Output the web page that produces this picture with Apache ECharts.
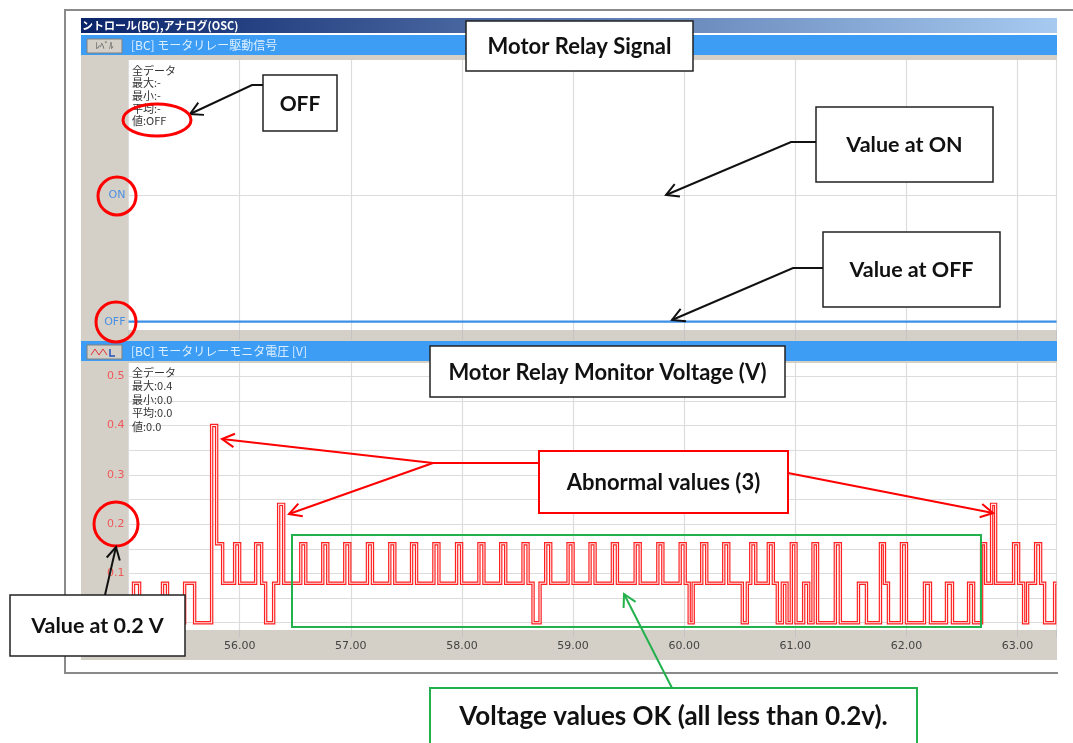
<!DOCTYPE html>
<html><head><meta charset="utf-8">
<script src="https://cdn.jsdelivr.net/npm/echarts@6/dist/echarts.min.js"></script>
<style>html,body{margin:0;padding:0;background:#fff}#c{width:1073px;height:743px}</style>
</head><body><div id="c"></div>
<script>
// ---------- data ----------
const xMin = 55, xMax = 63.35, xStep = 1;
const relayTimes = [55.0, 63.35];
const relayStates = [0, 0];
const relayStateLabels = ['OFF', 'ON'];
const voltTimes = [
  55.00, 55.045, 55.10, 55.306, 55.351, 55.505, 55.595, 55.748, 55.793, 55.847,
  55.955, 56.00, 56.144, 56.198, 56.234, 56.306, 56.351, 56.396, 56.55, 56.595,
  56.748, 56.793, 56.946, 56.991, 57.15, 57.195, 57.351, 57.396, 57.547, 57.592,
  57.748, 57.793, 57.952, 57.997, 58.153, 58.198, 58.349, 58.394, 58.55, 58.595,
  58.64, 58.703, 58.754, 58.799, 58.955, 59.00, 59.153, 59.198, 59.354, 59.399,
  59.559, 59.604, 59.763, 59.808, 59.964, 60.009, 60.045, 60.081, 60.158, 60.203,
  60.356, 60.401, 60.523, 60.568, 60.599, 60.644, 60.757, 60.802, 60.838, 60.883,
  60.925, 60.964, 61.006, 61.075, 61.12, 61.159, 61.20, 61.36, 61.405, 61.568,
  61.64, 61.766, 61.802, 61.838, 61.955, 62.00, 62.162, 62.216, 62.36, 62.414,
  62.559, 62.604, 62.676, 62.712, 62.766, 62.802, 62.964, 63.009, 63.054, 63.09,
  63.162, 63.207, 63.243, 63.333, 63.35
];
const voltValues = [
  0, 0.08, 0, 0.08, 0, 0.08, 0, 0.4, 0.16, 0.08,
  0.16, 0.08, 0.16, 0.08, 0, 0.08, 0.24, 0.08, 0.16, 0.08,
  0.16, 0.08, 0.16, 0.08, 0.16, 0.08, 0.16, 0.08, 0.16, 0.08,
  0.16, 0.08, 0.16, 0.08, 0.16, 0.08, 0.16, 0.08, 0.16, 0.08,
  0, 0.08, 0.16, 0.08, 0.16, 0.08, 0.16, 0.08, 0.16, 0.08,
  0.16, 0.08, 0.16, 0.08, 0.16, 0.08, 0, 0.08, 0.16, 0.08,
  0.16, 0.08, 0, 0.08, 0.16, 0.08, 0.16, 0.08, 0, 0.08,
  0, 0.16, 0, 0.08, 0, 0.16, 0, 0.16, 0, 0.08,
  0, 0.16, 0.08, 0, 0.16, 0, 0.08, 0, 0.08, 0,
  0.08, 0, 0.16, 0.08, 0.24, 0.08, 0.16, 0.08, 0, 0.08,
  0.16, 0.08, 0, 0.08, 0.08
];
const voltMin = 0, voltMax = 0.5, voltStep = 0.05;
const windowTitle = 'ントロール(BC),アナログ(OSC)';
const panel1Title = '[BC] モータリレー駆動信号';
const panel2Title = '[BC] モータリレーモニタ電圧 [V]';
const upperInfo = ['全データ', '最大:-', '最小:-', '平均:-', '値:OFF'];
const lowerInfo = ['全データ', '最大:0.4', '最小:0.0', '平均:0.0', '値:0.0'];

// ---------- layout helpers ----------
const GREY = '#d4d0c8', HEAD = '#3d9df5', GRID = '#dcdcdc';
const ANN = 'Lato, "Open Sans", sans-serif';
const JP = '"Noto Sans CJK JP", sans-serif';
function rect(x, y, w, h, fill, extra) { return Object.assign({ type: 'rect', shape: { x, y, width: w, height: h }, style: { fill }, z: -5 }, extra || {}); }
function txt(x, y, text, font, fill, align, z, extraStyle) {
  return { type: 'text', x, y, z: z || -4, style: Object.assign({ text, font, fill, align: align || 'left', verticalAlign: 'middle' }, extraStyle || {}) };
}
function box(x, y, w, h, stroke, lw, label, fs) {
  return [
    { type: 'rect', z: 100, shape: { x, y, width: w, height: h }, style: { fill: '#fff', stroke, lineWidth: lw } },
    { type: 'text', z: 101, x: x + w / 2, y: y + h / 2 + 1, style: { text: label, font: 'bold ' + fs + 'px ' + ANN, fill: '#111', align: 'center', verticalAlign: 'middle' } }
  ];
}
function arrow(points, color, lw) {
  const tip = points[points.length - 1], from = points[points.length - 2];
  const a = Math.atan2(from[1] - tip[1], from[0] - tip[0]), s = 0.5, L = 14;
  return [
    { type: 'polyline', z: 100, shape: { points }, style: { stroke: color, lineWidth: lw, fill: null } },
    { type: 'polyline', z: 100, shape: { points: [[tip[0] + L * Math.cos(a + s), tip[1] + L * Math.sin(a + s)], tip, [tip[0] + L * Math.cos(a - s), tip[1] + L * Math.sin(a - s)]] }, style: { stroke: color, lineWidth: lw, fill: null } }
  ];
}
function ring(cx, cy, rx, ry, z) { return { type: 'ellipse', z: z || 100, shape: { cx, cy, rx, ry }, style: { fill: null, stroke: '#ff0000', lineWidth: 3 } }; }

const graphics = [
  { type: 'polyline', z: -5, shape: { points: [[1073, 10], [65, 10], [65, 673], [1058, 673]] }, style: { stroke: '#8a8a8a', lineWidth: 2, fill: null } },
  rect(81, 18, 976, 15, new echarts.graphic.LinearGradient(0, 0, 1, 0, [{ offset: 0, color: '#0a246a' }, { offset: 1, color: '#a6caf0' }])),
  txt(82, 25.5, windowTitle, 'bold 11px ' + JP, '#ffffff'),
  rect(81, 35, 976, 20, HEAD),
  rect(87, 39, 35, 14, GREY, { style: { fill: GREY, stroke: '#808080', lineWidth: 1 } }),
  txt(104.5, 46, 'ﾚﾍﾞﾙ', '9px ' + JP, '#555', 'center'),
  txt(131, 45, panel1Title, '12px ' + JP, '#dcefff'),
  rect(81, 55, 976, 5, GREY),
  rect(81, 55, 47.5, 286, GREY),
  rect(81, 330, 976, 11, GREY),
  rect(81, 341, 976, 20, HEAD),
  rect(87, 345, 35, 14, GREY, { style: { fill: GREY, stroke: '#808080', lineWidth: 1 } }),
  { type: 'polyline', z: -4, shape: { points: [[91, 355], [95, 349], [99, 355], [103, 349], [107, 355]] }, style: { stroke: '#e03030', lineWidth: 1, fill: null } },
  { type: 'polyline', z: -4, shape: { points: [[110, 349], [110, 356], [115, 356]] }, style: { stroke: '#2050c0', lineWidth: 1.5, fill: null } },
  txt(131, 351.5, panel2Title, '12px ' + JP, '#dcefff'),
  rect(81, 361, 976, 2, GREY),
  rect(81, 361, 47.5, 299, GREY),
  rect(81, 630, 976, 30, GREY),
  { type: 'text', z: 50, x: 132, y: 64, style: { text: upperInfo.join('\n'), font: '11px ' + JP, fill: '#333', lineHeight: 12.7, verticalAlign: 'top' } },
  { type: 'text', z: 50, x: 132, y: 366, style: { text: lowerInfo.join('\n'), font: '11px ' + JP, fill: '#333', lineHeight: 13.5, verticalAlign: 'top' } },
  // annotations
  ...box(466, 21, 227, 50, '#222', 1.5, 'Motor Relay Signal', 22),
  ...box(263, 75, 74, 56, '#222', 1.5, 'OFF', 21),
  ...arrow([[263, 85], [252, 85], [190, 114]], '#111', 2),
  ring(157, 120, 34, 16),
  ring(117, 196, 19, 19),
  ring(116, 322, 20, 20),
  ...box(816, 107, 177, 75, '#222', 1.5, 'Value at ON', 21.5),
  ...arrow([[816, 142], [791, 142], [666, 195]], '#111', 2),
  ...box(823, 232, 177, 75, '#222', 1.5, 'Value at OFF', 21.5),
  ...arrow([[823, 268], [793, 268], [672, 320]], '#111', 2),
  ...box(430, 346, 355, 51, '#222', 1.5, 'Motor Relay Monitor Voltage (V)', 22),
  { type: 'rect', z: 99, shape: { x: 292, y: 535, width: 689, height: 92 }, style: { fill: null, stroke: '#22b14c', lineWidth: 2 } },
  ...box(539, 451, 249, 62, '#ff0000', 2, 'Abnormal values (3)', 22),
  { type: 'polyline', z: 100, shape: { points: [[539, 463], [433, 463]] }, style: { stroke: '#ff0000', lineWidth: 2, fill: null } },
  ...arrow([[433, 463], [222, 439]], '#ff0000', 2),
  ...arrow([[433, 463], [289, 514]], '#ff0000', 2),
  ...arrow([[788, 473], [993, 513]], '#ff0000', 2),
  ...arrow([[672, 688], [624, 594]], '#22b14c', 2),
  ...box(430, 688, 487, 56, '#22b14c', 2, 'Voltage values OK (all less than 0.2v).', 26),
  ring(116, 524, 22, 22),
  ...box(10, 595, 175, 61, '#222', 1.5, 'Value at 0.2 V', 21.5),
  ...arrow([[105, 595], [116, 547]], '#111', 2)
];

const L = 128.5, R = 1073 - 1056.5;
const isInt = v => Math.abs(v - Math.round(v)) < 1e-6;
const isTenth = v => Math.abs(v * 10 - Math.round(v * 10)) < 1e-6;
const hiddenX = i => ({ gridIndex: i, type: 'value', min: xMin, max: xMax, show: false });
const hiddenY = i => ({ gridIndex: i, type: 'value', min: 0, max: 1, show: false });
const voltData = voltTimes.map((t, i) => [t, voltValues[i]]);

const option = {
  animation: false,
  backgroundColor: '#fff',
  grid: [
    { left: L, right: R, top: 60, bottom: 743 - 330 },
    { left: L, right: R, top: 195.5, bottom: 743 - 321.7 },
    { left: L, right: R, top: 363, bottom: 743 - 630 },
    { left: L, right: R, top: 376.2, bottom: 743 - 622.7 }
  ],
  xAxis: [
    { gridIndex: 0, type: 'value', min: xMin, max: xMax, interval: xStep, axisLabel: { show: false }, axisLine: { show: false },
      axisTick: { show: true, length: 10, lineStyle: { color: '#c4c4c4' } }, splitLine: { show: true, lineStyle: { color: GRID, width: 1.2 } } },
    hiddenX(1),
    { gridIndex: 2, type: 'value', min: xMin, max: xMax, interval: xStep, axisLine: { show: false }, z: 5,
      axisTick: { show: true, length: 7, lineStyle: { color: '#c4c4c4' } },
      axisLabel: { margin: 11, color: '#444', fontSize: 11, fontFamily: 'DejaVu Sans', formatter: v => isInt(v) ? v.toFixed(2) : '' },
      splitLine: { show: true, lineStyle: { color: GRID, width: 1.2 } } },
    hiddenX(3)
  ],
  yAxis: [
    hiddenY(0),
    { gridIndex: 1, type: 'value', min: 0, max: 1, interval: 1, axisLine: { show: false }, axisTick: { show: false }, z: 5,
      axisLabel: { show: true, margin: 3, color: '#4a90e2', fontSize: 11, fontFamily: 'DejaVu Sans', formatter: v => relayStateLabels[Math.round(v)] },
      splitLine: { show: true, lineStyle: { color: GRID, width: 1.2 } } },
    hiddenY(2),
    { gridIndex: 3, type: 'value', min: voltMin, max: voltMax, interval: voltStep, axisLine: { show: false }, axisTick: { show: false }, z: 5,
      axisLabel: { show: true, margin: 4, color: '#f05858', fontSize: 11, fontFamily: 'DejaVu Sans', formatter: v => isTenth(v) ? v.toFixed(1) : '' },
      splitLine: { show: true, lineStyle: { color: GRID, width: 1.2 } } }
  ],
  graphic: graphics,
  series: [
    { type: 'line', xAxisIndex: 1, yAxisIndex: 1, step: 'end', symbol: 'none', clip: false, silent: true, z: 8,
      data: relayTimes.map((t, i) => [t, relayStates[i]]), lineStyle: { color: '#3b8fe8', width: 2.2 } },
    { type: 'line', xAxisIndex: 3, yAxisIndex: 3, step: 'end', symbol: 'none', clip: false, silent: true, z: 8,
      data: voltData, lineStyle: { color: '#ff2020', width: 3.4, join: 'miter' } },
    { type: 'line', xAxisIndex: 3, yAxisIndex: 3, step: 'end', symbol: 'none', clip: false, silent: true, z: 9,
      data: voltData, lineStyle: { color: '#ffe6e6', width: 1.1, join: 'miter' } }
  ]
};
echarts.init(document.getElementById('c')).setOption(option);
</script></body></html>
